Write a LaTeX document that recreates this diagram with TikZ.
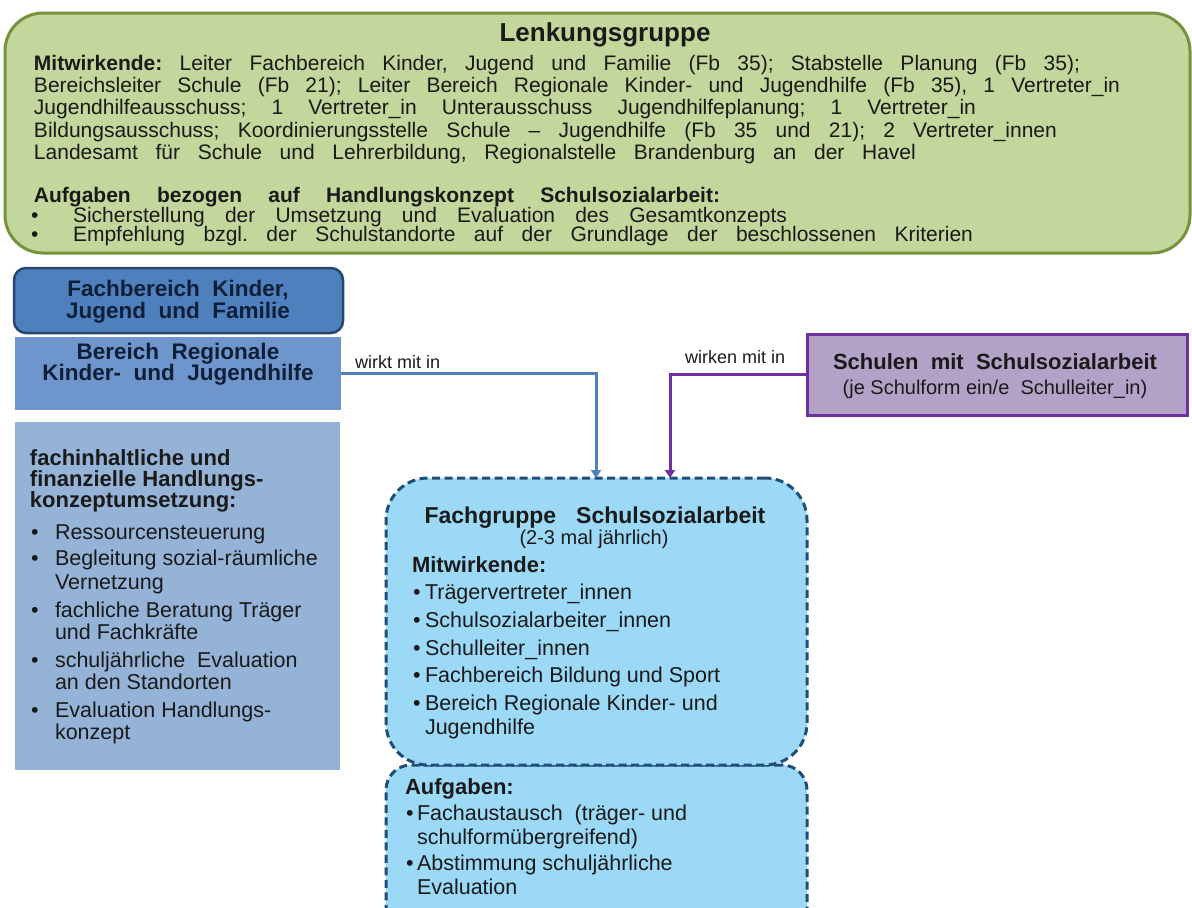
\documentclass[tikz,border=0pt]{standalone}
\usepackage{fontspec}
\setmainfont{Liberation Sans}
\usetikzlibrary{arrows.meta}
\definecolor{lkfill}{HTML}{C3D69B}
\definecolor{lkdraw}{HTML}{76923C}
\definecolor{fbfill}{HTML}{4F80BE}
\definecolor{fbdraw}{HTML}{27466E}
\definecolor{brfill}{HTML}{6F96CC}
\definecolor{fifill}{HTML}{95B3D7}
\definecolor{navy}{HTML}{0F1F38}
\definecolor{fgfill}{HTML}{9BD9F6}
\definecolor{fgdraw}{HTML}{1F4E79}
\definecolor{scfill}{HTML}{B3A2C7}
\definecolor{scdraw}{HTML}{7030A0}
\definecolor{arrblue}{HTML}{4F81BD}
\definecolor{txt}{HTML}{1A1A1A}
\newcommand\fsz[1]{\fontsize{#1}{#1}\selectfont}
\frenchspacing
\begin{document}
\begin{tikzpicture}[x=1pt,y=-1pt,
  boxbase/.style={inner sep=0pt, outer sep=0pt},
  lkbox/.style={boxbase, fill=lkfill, draw=lkdraw, line width=3pt, rounded corners=38pt},
  fbbox/.style={boxbase, fill=fbfill, draw=fbdraw, line width=2.5pt, rounded corners=12pt},
  brbox/.style={boxbase, fill=brfill},
  fibox/.style={boxbase, fill=fifill},
  scbox/.style={boxbase, fill=scfill, draw=scdraw, line width=3pt},
  fgbox/.style={boxbase, fill=fgfill, draw=fgdraw, line width=3pt, dash pattern=on 8pt off 4.5pt},
  ln/.style={anchor=base west, inner sep=0pt, outer sep=0pt, text=txt},
  lc/.style={anchor=base, inner sep=0pt, outer sep=0pt, text=txt},
  lkt/.style={ln, font=\fsz{21}},
  itm/.style={ln, font=\fsz{21.5}},
  hd/.style={ln, font=\bfseries\fsz{22}},
  conn/.style={line width=3pt, -{Triangle[width=10pt,length=8pt]}},
  lbl/.style={anchor=base west, inner sep=0pt, text=txt, font=\fsz{18}}
]
\useasboundingbox (0,0) rectangle (1192,908);
\clip (0,0) rectangle (1192,908);

% ---------- Lenkungsgruppe ----------
\node[lkbox, minimum width=1185pt, minimum height=240pt] (lk) at (597.5,133) {};
\node[lc, font=\bfseries\fsz{26}] (lktitle) at (605,41) {Lenkungsgruppe};
\node[lkt] (lk1) at (34,70) {\makebox[1046pt][s]{\textbf{Mitwirkende:} Leiter Fachbereich Kinder, Jugend und Familie (Fb 35); Stabstelle Planung (Fb 35);}};
\node[lkt] (lk2) at (34,92) {\makebox[1086pt][s]{Bereichsleiter Schule (Fb 21); Leiter Bereich Regionale Kinder- und Jugendhilfe (Fb 35), 1 Vertreter\_in}};
\node[lkt] (lk3) at (34,114) {\makebox[942pt][s]{Jugendhilfeausschuss; 1 Vertreter\_in Unterausschuss Jugendhilfeplanung; 1 Vertreter\_in}};
\node[lkt] (lk4) at (34,137) {\makebox[1023pt][s]{Bildungsausschuss; Koordinierungsstelle Schule – Jugendhilfe (Fb 35 und 21); 2 Vertreter\_innen}};
\node[lkt] (lk5) at (34,159) {\makebox[882pt][s]{Landesamt für Schule und Lehrerbildung, Regionalstelle Brandenburg an der Havel}};
\node[lkt, font=\bfseries\fsz{21}] (lk6) at (34,202) {\makebox[686pt][s]{Aufgaben bezogen auf Handlungskonzept Schulsozialarbeit:}};
\node[lkt] (lkb1) at (31,222) {•};
\node[lkt] (lk7) at (73,222) {\makebox[714pt][s]{Sicherstellung der Umsetzung und Evaluation des Gesamtkonzepts}};
\node[lkt] (lkb2) at (31,241) {•};
\node[lkt] (lk8) at (73,241) {\makebox[900pt][s]{Empfehlung bzgl. der Schulstandorte auf der Grundlage der beschlossenen Kriterien}};

% ---------- left column ----------
\node[fbbox, minimum width=329pt, minimum height=65pt] (fb) at (178.5,300.5) {};
\node[lc, font=\bfseries\fsz{22.5}, text=navy] (fbt1) at (178,296) {Fachbereich\ \ Kinder,};
\node[lc, font=\bfseries\fsz{22.5}, text=navy] (fbt2) at (178,318) {Jugend\ \ und\ \ Familie};

\node[brbox, minimum width=326pt, minimum height=73pt] (br) at (178,373.5) {};
\node[lc, font=\bfseries\fsz{22.5}, text=navy] (brt1) at (178,359) {Bereich\ \ Regionale};
\node[lc, font=\bfseries\fsz{22.5}, text=navy] (brt2) at (178,380) {Kinder-\ \ und\ \ Jugendhilfe};

\node[fibox, minimum width=325pt, minimum height=348pt] (fi) at (177.5,596) {};
\node[hd] (fih1) at (30,465) {fachinhaltliche und};
\node[hd] (fih2) at (30,486) {finanzielle Handlungs-};
\node[hd] (fih3) at (30,507) {konzeptumsetzung:};
\foreach \n/\y in {1/539,2/565,3/617,4/667,5/717}
  \node[itm] (fib\n) at (31,\y) {•};
\node[itm] (fi1) at (55,539) {Ressourcensteuerung};
\node[itm] (fi2) at (55,565) {Begleitung sozial-räumliche};
\node[itm] (fi2b) at (55,589) {Vernetzung};
\node[itm] (fi3) at (55,617) {fachliche Beratung Träger};
\node[itm] (fi3b) at (55,639) {und Fachkräfte};
\node[itm] (fi4) at (55,667) {schuljährliche\ \ Evaluation};
\node[itm] (fi4b) at (55,689) {an den Standorten};
\node[itm] (fi5) at (55,717) {Evaluation Handlungs-};
\node[itm] (fi5b) at (55,739) {konzept};

% ---------- Schulen ----------
\node[scbox, minimum width=380pt, minimum height=81pt] (sc) at (997,374.5) {};
\node[lc, font=\bfseries\fsz{22}] (sct1) at (995,369) {Schulen\ \ mit\ \ Schulsozialarbeit};
\node[lc, font=\fsz{20}] (sct2) at (995,394) {(je Schulform ein/e\ \ Schulleiter\_in)};

% ---------- Fachgruppe ----------
\node[fgbox, rounded corners=25pt, minimum width=421pt, minimum height=170pt] (au) at (596.5,850) {};
\node[fgbox, rounded corners=42pt, minimum width=421pt, minimum height=287pt] (fg) at (596.5,621.5) {};
\node[lc, font=\bfseries\fsz{23}] (fgt1) at (595,523) {Fachgruppe\hspace{20pt}Schulsozialarbeit};
\node[lc, font=\fsz{20}] (fgt2) at (594,544) {(2-3 mal jährlich)};
\node[hd] (fgm) at (412,572) {Mitwirkende:};
\foreach \n/\y in {1/599,2/627,3/655,4/682,5/710}
  \node[itm] (fgb\n) at (413,\y) {•};
\node[itm] (fg1) at (425,599) {Trägervertreter\_innen};
\node[itm] (fg2) at (425,627) {Schulsozialarbeiter\_innen};
\node[itm] (fg3) at (425,655) {Schulleiter\_innen};
\node[itm] (fg4) at (425,682) {Fachbereich Bildung und Sport};
\node[itm] (fg5) at (425,710) {Bereich Regionale Kinder- und};
\node[itm] (fg5b) at (425,734) {Jugendhilfe};

\node[hd] (aut) at (405,794) {Aufgaben:};
\foreach \n/\y in {1/820,2/870}
  \node[itm] (aub\n) at (406,\y) {•};
\node[itm] (au1) at (417,820) {Fachaustausch\ \ (träger- und};
\node[itm] (au1b) at (417,844) {schulformübergreifend)};
\node[itm] (au2) at (417,870) {Abstimmung schuljährliche};
\node[itm] (au2b) at (417,894) {Evaluation};

% ---------- connectors ----------
\draw[conn, arrblue] (br.east) -| ([xshift=210pt]fg.north west);
\draw[conn, scdraw] (sc.west) -| ([xshift=284pt]fg.north west);
\node[lbl] (l1) at (355,368) {wirkt mit in};
\node[lbl] (l2) at (685,363) {wirken mit in};
\end{tikzpicture}
\end{document}
